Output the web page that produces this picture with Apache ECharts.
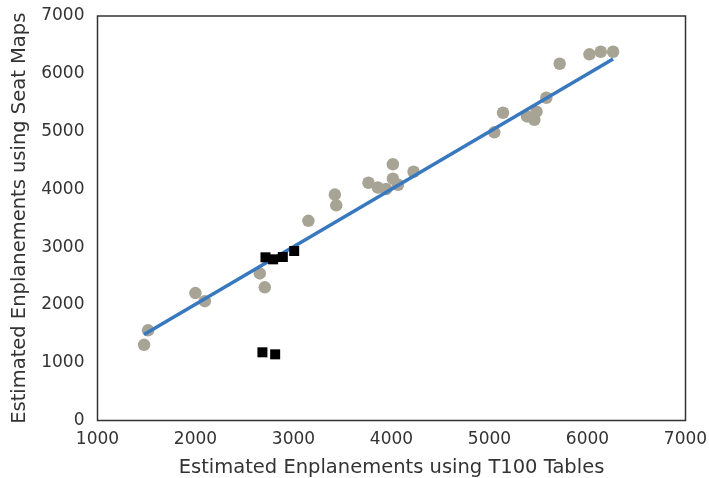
<!DOCTYPE html>
<html>
<head>
<meta charset="utf-8">
<script src="https://cdn.jsdelivr.net/npm/echarts@6/dist/echarts.min.js"></script>
<style>
html, body { margin: 0; padding: 0; background: #fff; }
#chart { width: 709px; height: 478px; }
</style>
</head>
<body>
<div id="chart"></div>
<script>
// airports: T100 estimate vs seat map estimate
var circleX = [1516, 1475, 1999, 2095, 2656, 2707, 3152, 3422, 3436, 3765, 3860, 3946, 4014, 4014, 4066, 4225,
               5049, 5138, 5383, 5458, 5480, 5580, 5716, 6020, 6135, 6261];
var circleY = [1560, 1310, 2205, 2065, 2545, 2305, 3455, 3910, 3724, 4115, 4032, 4006, 4435, 4185, 4080, 4305,
               4987, 5326, 5262, 5205, 5344, 5586, 6174, 6337, 6382, 6382];
var squareX = [2714, 2792, 2891, 3007, 2683, 2813];
var squareY = [2824, 2789, 2829, 2933, 1180, 1145];
var fitX = [1475, 6261];
var fitY = [1490, 6255];

function pairs(xs, ys) {
	var out = new Array();
	for (var k in xs) {
		out[k] = [xs[k], ys[k]];
	}
	return out;
}

function plain(v) {
	return String(v);
}

var font = 'DejaVu Sans';
var myChart = echarts.init(document.getElementById('chart'));
var option = {
	animation: false,
	grid: {
		left: 97.5,
		right: 23.5,
		top: 16,
		bottom: 57.5,
		outerBoundsMode: 'none',
		containLabel: false,
		show: true,
		borderColor: '#333',
		borderWidth: 1.5,
		backgroundColor: '#fff'
	},
	xAxis: {
		type: 'value',
		min: 1000,
		max: 7000,
		interval: 1000,
		name: 'Estimated Enplanements using T100 Tables',
		nameLocation: 'middle',
		nameGap: 37,
		nameTextStyle: { fontFamily: font, fontSize: 19.5, color: '#333' },
		axisLine: { show: false },
		axisTick: { show: false },
		splitLine: { show: false },
		axisLabel: { fontFamily: font, fontSize: 17, color: '#333', margin: 11, formatter: plain }
	},
	yAxis: {
		type: 'value',
		min: 0,
		max: 7000,
		interval: 1000,
		name: 'Estimated Enplanements using Seat Maps',
		nameLocation: 'middle',
		nameGap: 67,
		nameTextStyle: { fontFamily: font, fontSize: 19.5, color: '#333' },
		axisLine: { show: false },
		axisTick: { show: false },
		splitLine: { show: false },
		axisLabel: { fontFamily: font, fontSize: 17, color: '#333', margin: 13, formatter: plain }
	},
	series: [
		{
			type: 'scatter',
			data: pairs(circleX, circleY),
			symbol: 'circle',
			symbolSize: 12.5,
			itemStyle: { color: '#a8a495', opacity: 1 },
			z: 2
		},
		{
			type: 'line',
			data: pairs(fitX, fitY),
			showSymbol: false,
			symbol: 'none',
			lineStyle: { color: '#3778bf', width: 3.5 },
			z: 3
		},
		{
			type: 'scatter',
			data: pairs(squareX, squareY),
			symbol: 'rect',
			symbolSize: 10,
			itemStyle: { color: '#000', opacity: 1 },
			z: 4
		}
	]
};
myChart.setOption(option);
</script>
</body>
</html>
